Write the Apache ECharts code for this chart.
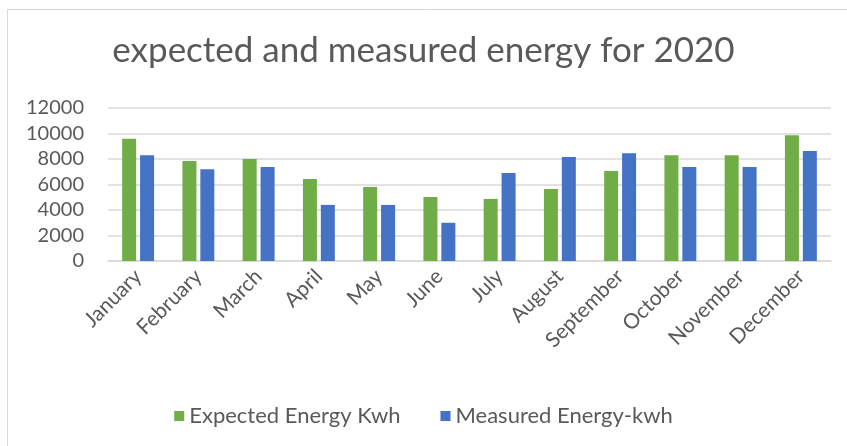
<!DOCTYPE html>
<html>
<head>
<meta charset="utf-8">
<script src="https://cdn.jsdelivr.net/npm/echarts@6/dist/echarts.min.js"></script>
<style>
  html, body { margin: 0; padding: 0; background: #fff; }
  #chart { width: 847px; height: 446px; }
</style>
</head>
<body>
<div id="chart"></div>
<script>
// Monthly energy figures for 2020
const months = ['January', 'February', 'March', 'April', 'May', 'June',
  'July', 'August', 'September', 'October', 'November', 'December'];
const expectedKwh = [9580, 7850, 8000, 6430, 5800, 5020, 4870, 5650, 7050, 8300, 8300, 9860];
const measuredKwh = [8300, 7200, 7370, 4400, 4400, 3000, 6900, 8150, 8460, 7370, 7370, 8620];
const yTicks = { min: 0, max: 12000, interval: 2000 };

const textColor = '#595959';
const lineColor = '#d9d9d9';
const fontFamily = 'Lato, "Open Sans", sans-serif';

const chart = echarts.init(document.getElementById('chart'), null, { renderer: 'canvas' });
chart.setOption({
  backgroundColor: '#ffffff',
  animation: false,
  textStyle: { fontFamily: fontFamily },
  graphic: [{
    type: 'rect',
    shape: { x: 7.5, y: 9.5, width: 860, height: 460 },
    style: { fill: 'none', stroke: lineColor, lineWidth: 1 },
    silent: true
  }],
  title: {
    text: 'expected and measured energy for 2020',
    left: 'center',
    top: 28,
    textStyle: { fontFamily: fontFamily, fontSize: 35, fontWeight: 'normal', color: textColor }
  },
  legend: {
    data: ['Expected Energy Kwh', 'Measured Energy-kwh'],
    left: 'center',
    top: 400,
    itemWidth: 10,
    itemHeight: 10,
    itemGap: 40,
    icon: 'rect',
    textStyle: { fontFamily: fontFamily, fontSize: 22, color: textColor }
  },
  grid: { left: 108, right: 16, top: 108, bottom: 185, containLabel: false },
  xAxis: {
    type: 'category',
    data: months,
    axisLine: { lineStyle: { color: lineColor, width: 1.5 } },
    axisTick: { show: false },
    axisLabel: {
      rotate: 45,
      interval: 0,
      margin: 12,
      color: textColor,
      fontSize: 21,
      fontFamily: fontFamily
    }
  },
  yAxis: {
    type: 'value',
    min: yTicks.min,
    max: yTicks.max,
    interval: yTicks.interval,
    axisLine: { show: false },
    axisTick: { show: false },
    splitLine: { lineStyle: { color: lineColor, width: 1.5 } },
    axisLabel: {
      color: textColor,
      fontSize: 20,
      margin: 24,
      fontFamily: fontFamily,
      formatter: function (v) { return String(v); }
    }
  },
  series: [
    {
      name: 'Expected Energy Kwh',
      type: 'bar',
      data: expectedKwh,
      barWidth: 14,
      barGap: '28%',
      itemStyle: { color: '#70ad47' }
    },
    {
      name: 'Measured Energy-kwh',
      type: 'bar',
      data: measuredKwh,
      barWidth: 14,
      barGap: '28%',
      itemStyle: { color: '#4472c4' }
    }
  ]
});
</script>
</body>
</html>
